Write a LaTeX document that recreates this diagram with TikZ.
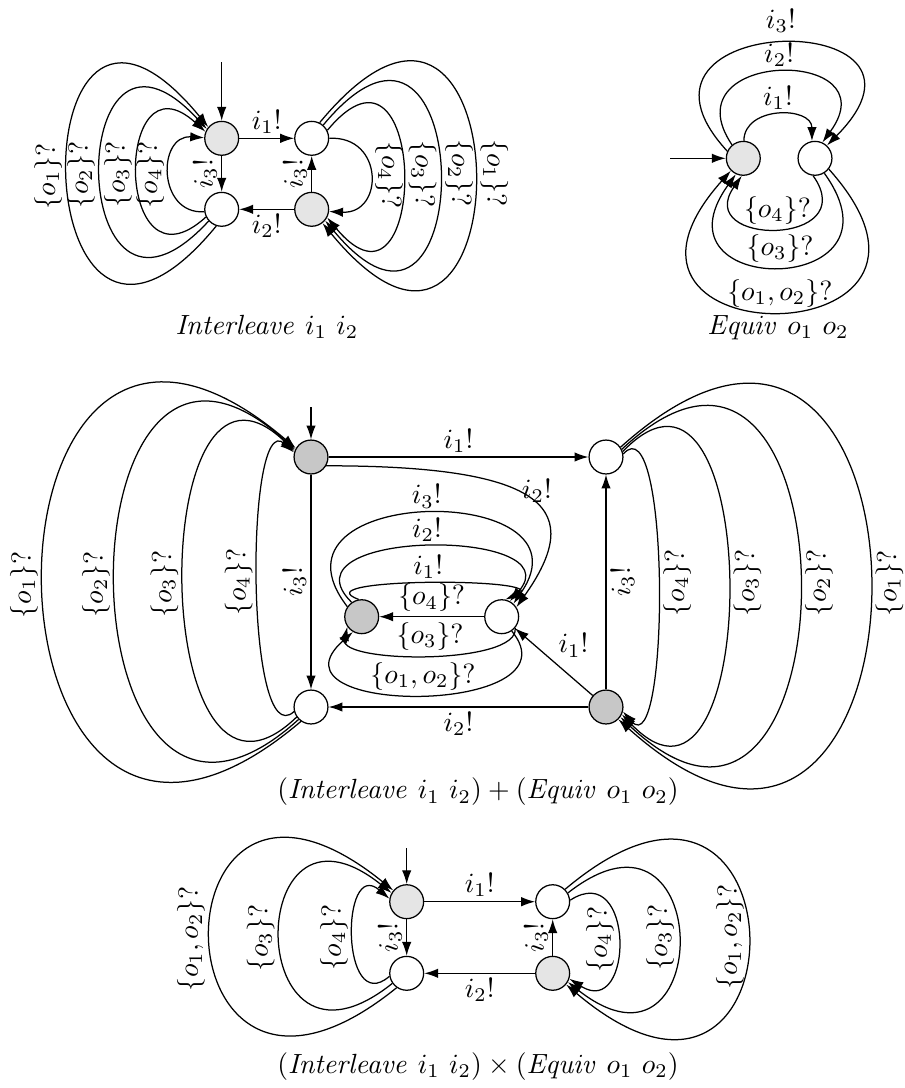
\documentclass[tikz,border=0pt]{standalone}
\usetikzlibrary{arrows.meta}
\begin{document}
\begin{tikzpicture}[x=0.36pt,y=0.36pt,
  st/.style={circle,draw,line width=0.45pt,minimum size=12.2pt,inner sep=0pt},
  lg/.style={st,fill=black!10},
  dg/.style={st,fill=black!22},
  tr/.style={-{Latex[length=5pt,width=3.4pt]},line width=0.45pt},
  lb/.style={inner sep=1.5pt},
  ll/.style={lb,pos=0.5,rotate=90,anchor=south},
  lr/.style={lb,pos=0.5,rotate=90,anchor=north},
  rr/.style={lb,pos=0.5,rotate=-90,anchor=south}]
\useasboundingbox (0,0) rectangle (905,-1088);

% ---------- Interleave i1 i2 ----------
\node[lg] (A) at (221.7,-138.3) {};
\node[st] (B) at (311.7,-138.3) {};
\node[st] (C) at (221.7,-209.3) {};
\node[lg] (D) at (311.7,-209.3) {};
\coordinate (a0) at (221.7,-62);
\draw[tr] (a0) -- (A);
\draw[tr] (A) -- node[lb,above]{$i_1!$} (B);
\draw[tr] (D) -- node[lb,below]{$i_2!$} (C);
\draw[tr] (A) -- node[ll]{$i_3!$} (C);
\draw[tr] (D) -- node[ll]{$i_3!$} (B);
\draw[tr] (C.188) .. controls +(-47,-3) and +(-47,3) .. (A.178) node[ll]{$\{o_4\}?$};
\draw[tr] (C.206) .. controls +(-92,-84) and +(-92,84) .. (A.158) node[ll]{$\{o_3\}?$};
\draw[tr] (C.222) .. controls +(-144,-156) and +(-144,156) .. (A.148) node[ll]{$\{o_2\}?$};
\draw[tr] (C.252) .. controls +(-194,-236) and +(-194,236) .. (A.140) node[ll]{$\{o_1\}?$};
\draw[tr] (B.0) .. controls +(55,3) and +(55,-3) .. (D.-7) node[rr]{$\{o_4\}?$};
\draw[tr] (B.27) .. controls +(102,123) and +(102,-123) .. (D.-28) node[rr]{$\{o_3\}?$};
\draw[tr] (B.49) .. controls +(155,186) and +(155,-186) .. (D.-40) node[rr]{$\{o_2\}?$};
\draw[tr] (B.63) .. controls +(206,249) and +(206,-249) .. (D.-52) node[rr]{$\{o_1\}?$};
\node (capA) at (267,-327) {$\mathit{Interleave}\ i_1\ i_2$};

% ---------- Equiv o1 o2 ----------
\node[lg] (E0) at (743.3,-158.3) {};
\node[st] (E1) at (815,-158.3) {};
\coordinate (e0) at (670,-158.3);
\draw[tr] (e0) -- (E0);
\draw[tr] (E0.88) .. controls +(0,35) and +(0,35) .. (E1.100) node[lb,pos=.5,above]{$i_1!$};
\draw[tr] (E0.130) .. controls +(-65,96) and +(70,96) .. (E1.65) node[lb,pos=.5,above]{$i_2!$};
\draw[tr] (E0.156) .. controls +(-130,141) and +(140,141) .. (E1.47) node[lb,pos=.5,above,yshift=2pt]{$i_3!$};
\draw[tr] (E1.264) .. controls +(50,-71) and +(-50,-71) .. (E0.265) node[lb,pos=.5,above]{$\{o_4\}?$};
\draw[tr] (E1.302) .. controls +(90,-125) and +(-90,-125) .. (E0.245) node[lb,pos=.5,above]{$\{o_3\}?$};
\draw[tr] (E1.322) .. controls +(170,-190) and +(-170,-190) .. (E0.225) node[lb,pos=.5,above]{$\{o_1,o_2\}?$};
\node (capE) at (778,-328) {$\mathit{Equiv}\ o_1\ o_2$};

% ---------- sum ----------
\node[dg] (T) at (311,-457) {};
\node[st] (R) at (606,-457) {};
\node[st] (L) at (311,-707) {};
\node[dg] (G) at (606,-707) {};
\node[dg] (IL) at (361.7,-616.7) {};
\node[st] (IR) at (501.7,-616.7) {};
\coordinate (t0) at (311,-407);
\draw[tr] (t0) -- (T);
\draw[tr] (T) -- node[lb,above]{$i_1!$} (R);
\draw[tr] (T) -- node[ll]{$i_3!$} (L);
\draw[tr] (G) -- node[lr]{$i_3!$} (R);
\draw[tr] (G) -- node[lb,below]{$i_2!$} (L);
\draw[tr] (G) -- node[lb,pos=.5,anchor=south west]{$i_1!$} (IR);
\draw[tr] (T.-30) .. controls +(224,0) and +(69,97) .. (IR.33) node[lb,pos=.43,anchor=west]{$i_2!$};
\draw[tr] (IR) -- node[lb,above]{$\{o_4\}?$} (IL);
\draw[tr] (IL.100) .. controls +(-60,22) and +(50,22) .. (IR.78) node[lb,pos=.5,above]{$i_1!$};
\draw[tr] (IL.125) .. controls +(-75,74) and +(65,74) .. (IR.62) node[lb,pos=.5,above]{$i_2!$};
\draw[tr] (IL.145) .. controls +(-95,123) and +(85,123) .. (IR.48) node[lb,pos=.5,above]{$i_3!$};
\draw[tr] (IR.-40) .. controls +(5,-37) and +(-8,-37) .. (IL.215) node[lb,pos=.5,above]{$\{o_3\}?$};
\draw[tr] (IR.-55) .. controls +(70,-85) and +(-95,-85) .. (IL.240) node[lb,pos=.5,above]{$\{o_1,o_2\}?$};
\draw[tr] (L.195) .. controls +(-49,-45) and +(-49,45) .. (T.165) node[ll]{$\{o_4\}?$};
\draw[tr] (L.215) .. controls +(-150,-145) and +(-150,145) .. (T.160) node[ll]{$\{o_3\}?$};
\draw[tr] (L.225) .. controls +(-243,-220) and +(-243,220) .. (T.155) node[ll]{$\{o_2\}?$};
\draw[tr] (L.235) .. controls +(-341,-290) and +(-341,290) .. (T.150) node[ll]{$\{o_1\}?$};
\draw[tr] (R.10) .. controls +(47,53) and +(47,-53) .. (G.-15) node[lr]{$\{o_4\}?$};
\draw[tr] (R.18) .. controls +(142,148) and +(142,-148) .. (G.-25) node[lr]{$\{o_3\}?$};
\draw[tr] (R.26) .. controls +(239,224) and +(239,-224) .. (G.-35) node[lr]{$\{o_2\}?$};
\draw[tr] (R.34) .. controls +(335,301) and +(335,-301) .. (G.-45) node[lr]{$\{o_1\}?$};
\node (capS) at (478,-792) {$(\mathit{Interleave}\ i_1\ i_2) + (\mathit{Equiv}\ o_1\ o_2)$};

% ---------- product ----------
\node[lg] (P) at (406.7,-901.7) {};
\node[st] (R2) at (552.7,-901.7) {};
\node[st] (Q) at (406.7,-973.3) {};
\node[lg] (S) at (552.7,-973.3) {};
\coordinate (p0) at (406.7,-848.3);
\draw[tr] (p0) -- (P);
\draw[tr] (P) -- node[lb,above]{$i_1!$} (R2);
\draw[tr] (S) -- node[lb,below]{$i_2!$} (Q);
\draw[tr] (P) -- node[ll]{$i_3!$} (Q);
\draw[tr] (S) -- node[ll]{$i_3!$} (R2);
\draw[tr] (Q.190) .. controls +(-49,-42) and +(-49,42) .. (P.170) node[ll]{$\{o_4\}?$};
\draw[tr] (Q.215) .. controls +(-150,-120) and +(-150,120) .. (P.150) node[ll]{$\{o_3\}?$};
\draw[tr] (Q.235) .. controls +(-247,-200) and +(-247,200) .. (P.140) node[ll]{$\{o_1,o_2\}?$};
\draw[tr] (R2.5) .. controls +(65,42) and +(65,-42) .. (S.-18) node[ll]{$\{o_4\}?$};
\draw[tr] (R2.30) .. controls +(148,116) and +(148,-116) .. (S.-30) node[ll]{$\{o_3\}?$};
\draw[tr] (R2.45) .. controls +(244,206) and +(244,-206) .. (S.-40) node[ll]{$\{o_1,o_2\}?$};
\node (capP) at (478,-1066.7) {$(\mathit{Interleave}\ i_1\ i_2) \times (\mathit{Equiv}\ o_1\ o_2)$};
\end{tikzpicture}
\end{document}
